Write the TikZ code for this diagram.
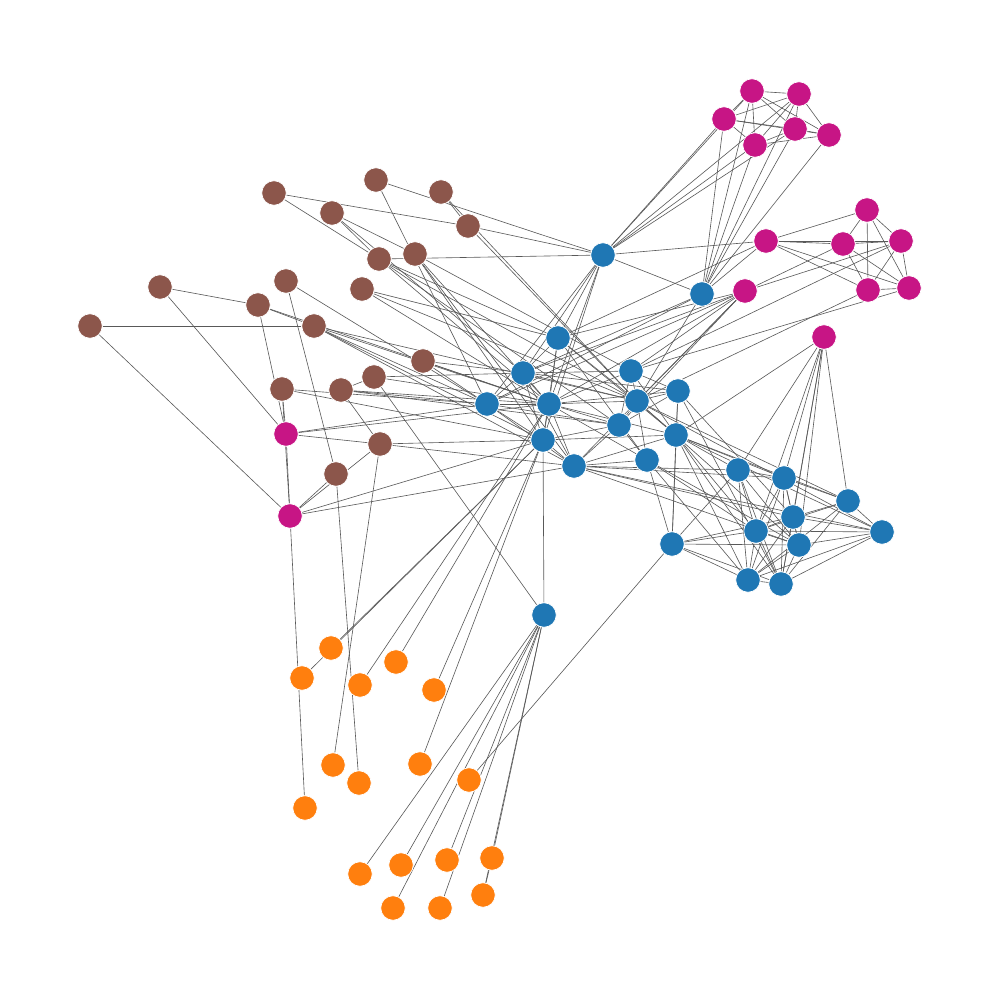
\documentclass[tikz,border=0pt]{standalone}
\usetikzlibrary{backgrounds}
\definecolor{cblue}{HTML}{1F77B4}
\definecolor{corange}{HTML}{FF7F0E}
\definecolor{cbrown}{HTML}{8C564B}
\definecolor{cmag}{HTML}{C71585}
\tikzset{
  vtx/.style={circle,draw=white,line width=0.4pt,minimum size=0.49cm,inner sep=0pt},
  vb/.style={vtx,fill=cblue},
  vo/.style={vtx,fill=corange},
  vr/.style={vtx,fill=cbrown},
  vm/.style={vtx,fill=cmag},
  edge/.style={draw=black!65,line width=0.35pt}
}
\begin{document}
\begin{tikzpicture}[x=0.02cm,y=-0.02cm]
\useasboundingbox (0,0) rectangle (1000,1000);
% magenta
\foreach \n/\x/\y in {m1/752/91,m2/799/94,m3/724/119,m4/795/129,m5/829/135,m6/755/145,
  m7/867/210,m8/766/241,m9/843/244,m10/901/241,m11/745/291,m12/868/290,m13/909/288,
  m14/824/337,m15/286/434,m16/290/516}
  \node[vm] (\n) at (\x,\y) {};
% brown
\foreach \n/\x/\y in {b1/274/193,b2/376/180,b3/441/192,b4/332/213,b5/468/226,b6/379/259,
  b7/415/254,b8/160/287,b9/286/281,b10/258/305,b11/362/289,b12/90/326,b13/314/326,
  b14/423/361,b15/282/389,b16/341/390,b17/374/377,b18/380/444,b19/336/474}
  \node[vr] (\n) at (\x,\y) {};
% blue
\foreach \n/\x/\y in {u1/603/255,u2/702/294,u3/558/338,u4/523/373,u5/631/371,u6/487/404,
  u7/549/404,u8/637/401,u9/678/391,u10/619/425,u11/543/440,u12/676/435,u13/574/466,
  u14/647/460,u15/738/470,u16/784/478,u17/848/501,u18/793/517,u19/756/531,u20/882/532,
  u21/672/544,u22/799/545,u23/748/580,u24/781/584,u25/544/615}
  \node[vb] (\n) at (\x,\y) {};
% orange
\foreach \n/\x/\y in {o1/331/648,o2/302/678,o3/396/662,o4/360/685,o5/434/690,o6/333/765,
  o7/359/783,o8/420/764,o9/469/780,o10/305/808,o11/360/874,o12/401/865,o13/447/860,
  o14/492/858,o15/393/908,o16/440/908,o17/483/895}
  \node[vo] (\n) at (\x,\y) {};
\begin{scope}[on background layer]
\foreach \a/\b in {
  m1/m2,m1/m3,m1/m4,m1/m5,m1/m6,m3/m2,m3/m4,m3/m6,m3/m5,m2/m6,m2/m4,m2/m5,m4/m5,m6/m4,m6/m5,
  u1/m1,u1/m3,u1/m6,u1/m4,u1/m2,u2/m3,u2/m1,u2/m6,u2/m4,u2/m2,u2/m5,
  m7/m8,m7/m9,m7/m10,m7/m12,m7/m13,m8/m9,m8/m10,m8/m12,m8/m13,m9/m10,m9/m12,m9/m13,
  m10/m12,m10/m13,m12/m13,m9/m11,m8/u1,m8/u3,m11/m10,m12/u8,m13/u5,m10/u5,m8/u2,
  m11/u4,m11/u7,m11/u5,m11/u3,m11/u13,m11/u10,m11/u6,m11/u8,
  m14/u12,m14/u15,m14/u16,m14/u18,m14/u19,m14/u22,m14/u17,m14/u24,
  b1/b5,b1/b6,b4/b6,b4/b7,b2/u1,b2/u6,b3/b5,b3/u8,b5/u8,b5/u1,b6/u1,b12/b13,b12/m16,
  b8/b10,b8/m15,b10/m15,b10/b13,b10/u7,b9/b19,b9/u6,b19/o7,b18/o6,m16/o10,
  b13/u6,b13/u11,b13/u8,b13/u13,b13/u7,
  b15/m15,b15/m16,m15/m16,b15/u6,b15/u11,m15/b18,m15/u6,m15/u7,b18/u11,b18/u13,
  b16/b17,b16/b18,b16/u7,b16/u6,b16/u10,b17/u7,b17/u25,b17/u4,
  m16/b18,m16/b19,m16/u13,m16/u11,
  b14/u6,b14/u7,b14/u9,
  b6/u3,b6/u7,b6/u10,b6/u8,b7/u7,b7/u11,b7/u5,b7/u13,b11/u3,b11/u7,b11/u8,b4/u4,
  o1/u11,o2/u11,o3/u7,o4/u7,o5/u11,o8/u11,o9/u21,
  o11/u25,o12/u25,o13/u25,o14/u25,o15/u25,o16/u25,o17/u25,o17/o14,u25/u11,
  u1/u2,u1/u3,u1/u4,u1/u7,u1/u11,u1/u6,u2/u8,u2/u6,u2/u4,
  u3/u4,u3/u7,u3/u11,u3/u8,u3/u14,u3/u12,u4/u6,u4/u7,u4/u11,u4/u13,u4/u5,u4/u8,
  u6/u7,u6/u11,u6/u13,u6/u10,u7/u5,u7/u8,u7/u11,u7/u13,u7/u10,u7/u9,u7/u12,u7/u14,
  u5/u8,u5/u10,u5/u9,u5/u12,u8/u10,u8/u12,u8/u14,u8/u9,u9/u12,u10/u11,u10/u14,
  u11/u13,u11/u12,u13/u14,u13/u10,u13/u12,u9/u10,
  u15/u16,u15/u19,u15/u23,u15/u24,u15/u22,u15/u21,u16/u18,u16/u19,u16/u22,u16/u17,
  u16/u23,u16/u24,u17/u18,u17/u20,u17/u19,u17/u23,u17/u24,u18/u19,u18/u22,u18/u20,
  u18/u23,u18/u24,u19/u22,u19/u23,u19/u24,u19/u20,u19/u21,u20/u22,u20/u24,u20/u23,
  u21/u22,u21/u23,u21/u24,u21/u18,u22/u23,u22/u24,u23/u24,
  u12/u15,u12/u17,u12/u20,u12/u16,u12/u19,u12/u23,u12/u24,u12/u21,u8/u17,u8/u20,
  u8/u22,u9/u18,u9/u24,u13/u15,u13/u16,u13/u18,u13/u22,u13/u20,u14/u22,u14/u19,
  u14/u23,u14/u21,u9/u21}
  \draw[edge] (\a) -- (\b);
\end{scope}
\end{tikzpicture}
\end{document}
